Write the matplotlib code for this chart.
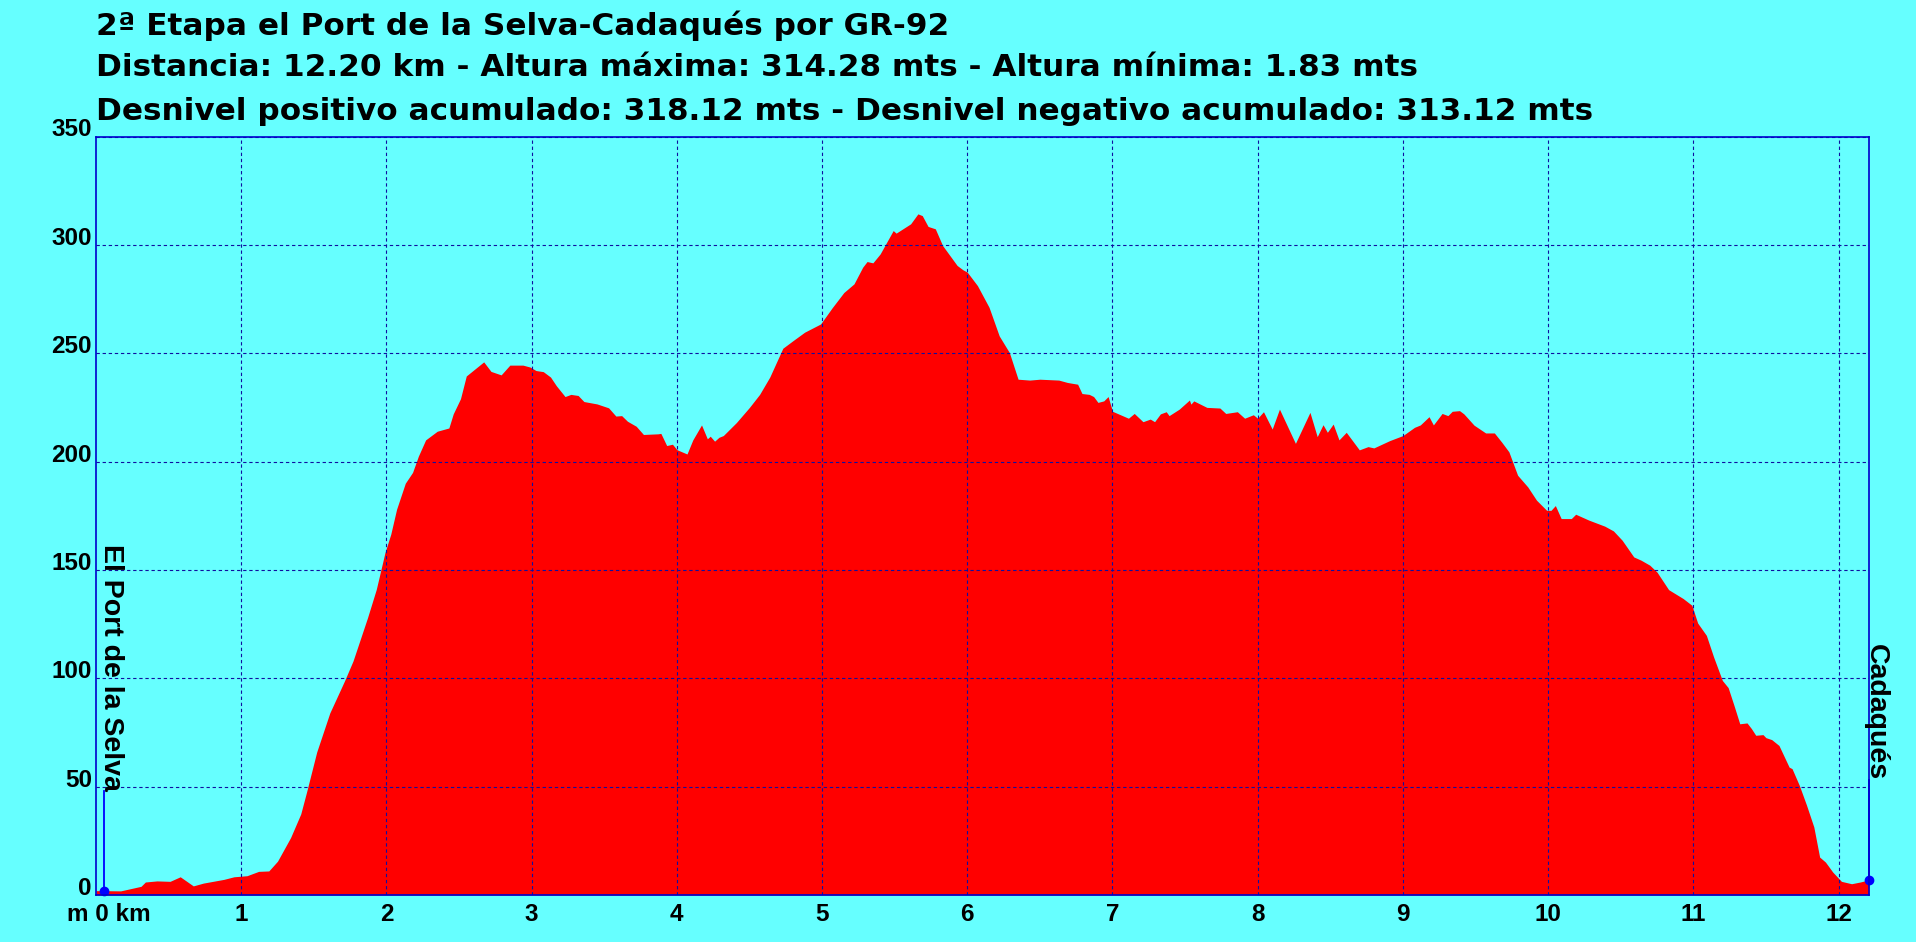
import numpy as np
import matplotlib
matplotlib.use('Agg')
import matplotlib.pyplot as plt

# profile: distance (km), altitude (m)
dist_km = [0.00, 0.055, 0.17, 0.31, 0.34, 0.42, 0.51, 0.58, 0.67, 0.74, 0.88, 0.95,
           1.04, 1.12, 1.19, 1.25, 1.34, 1.41, 1.45, 1.52, 1.61, 1.71, 1.77, 1.82,
           1.87, 1.93, 1.99, 2.03, 2.07, 2.13, 2.18, 2.22, 2.27, 2.35, 2.43, 2.46,
           2.51, 2.55, 2.67, 2.72, 2.79, 2.85, 2.94, 2.99, 3.03, 3.08, 3.13, 3.17,
           3.23, 3.27, 3.32, 3.36, 3.45, 3.53, 3.58, 3.62, 3.66, 3.72, 3.77, 3.87,
           3.89, 3.93, 3.97, 4.00, 4.07, 4.11, 4.17, 4.21, 4.23, 4.26, 4.29, 4.32,
           4.41, 4.50, 4.57, 4.64, 4.73, 4.80, 4.88, 4.99, 5.07, 5.15, 5.22, 5.28,
           5.31, 5.35, 5.40, 5.49, 5.51, 5.61, 5.66, 5.69, 5.73, 5.78, 5.83, 5.93,
           5.97, 6.00, 6.07, 6.15, 6.22, 6.29, 6.35, 6.43, 6.50, 6.63, 6.69, 6.76,
           6.79, 6.84, 6.87, 6.90, 6.94, 6.97, 7.00, 7.11, 7.15, 7.21, 7.26, 7.29,
           7.33, 7.37, 7.39, 7.46, 7.53, 7.54, 7.56, 7.65, 7.74, 7.78, 7.86, 7.91,
           7.97, 8.00, 8.04, 8.10, 8.15, 8.26, 8.36, 8.41, 8.45, 8.48, 8.52, 8.56,
           8.61, 8.70, 8.76, 8.80, 8.91, 9.00, 9.08, 9.12, 9.18, 9.21, 9.27, 9.31,
           9.34, 9.39, 9.42, 9.49, 9.57, 9.63, 9.68, 9.73, 9.79, 9.86, 9.92, 9.99,
           10.02, 10.05, 10.09, 10.16, 10.19, 10.28, 10.39, 10.45, 10.51, 10.59, 10.64, 10.70,
           10.75, 10.83, 10.93, 10.99, 11.03, 11.09, 11.14, 11.20, 11.24, 11.28, 11.32, 11.37,
           11.40, 11.43, 11.48, 11.50, 11.54, 11.59, 11.66, 11.68, 11.73, 11.78, 11.83, 11.87,
           11.91, 11.96, 12.02, 12.09, 12.15, 12.21]
alt_m = [2.0, 2.0, 1.9, 4.0, 6.0, 6.5, 6.3, 8.4, 4.2, 5.5, 7.2, 8.4,
         8.9, 10.9, 11.1, 15.6, 26.5, 37.4, 47.5, 66, 84, 98.6, 108, 118,
         128, 141, 158, 166.5, 178, 190, 195, 202.5, 210, 214, 215.5, 222,
         229, 239.5, 246, 241.6, 240, 244.5, 244.5, 243.6, 242, 241.5, 239, 235,
         230, 231, 230.5, 227.7, 226.6, 224.8, 221, 221.2, 218.6, 216.3, 212.5, 212.8,
         213, 207.4, 208, 205.5, 203.5, 210, 216.9, 210.5, 211.7, 209.4, 211.2, 212,
         218, 225, 231, 239, 252.3, 255.8, 259.7, 263.5, 271, 278, 282, 289.7,
         292.3, 291.7, 295.8, 306.6, 305.4, 309.7, 314.3, 313.5, 308.5, 307.4, 299.7, 290.5,
         288.5, 287.4, 281.2, 271.2, 258, 250.3, 238, 237.6, 238, 237.6, 236.5, 235.7,
         231.4, 231, 230, 227.3, 228, 230, 223.2, 220, 222.2, 218.4, 219.6, 218.4,
         222, 223, 221.2, 224.2, 228.4, 226.5, 228, 225, 224.7, 222.2, 223, 220,
         221.6, 220, 223, 215, 224.2, 208.4, 222.7, 211.5, 217, 213.5, 217.3, 210,
         213.5, 205.4, 206.9, 206.3, 209.7, 212, 215.8, 216.9, 220.7, 216.9, 222.2, 221.2,
         223.2, 223.5, 222, 216.8, 213.2, 213.2, 209, 204.5, 193.7, 188.3, 182.2, 177.5,
         177.5, 179.7, 173.7, 173.7, 175.7, 173, 170.2, 168, 163.7, 156, 154.5, 152.2,
         149, 140.9, 136.8, 133.7, 125.5, 119.8, 109.8, 99, 95.7, 87.5, 79, 79.4,
         76.8, 73.7, 74, 72.6, 71.7, 69, 59, 58.3, 50.6, 41.4, 31.4, 17.5,
         15.2, 10.6, 6.3, 5.2, 6, 7]

x_ticks = list(range(1, 13))
y_ticks = [0, 50, 100, 150, 200, 250, 300, 350]

start_name = 'El Port de la Selva'
start_km, start_alt = 0.055, 2.0
end_name = 'Cadaqués'
end_km, end_alt = 12.21, 7.0

title_lines = ['2ª Etapa el Port de la Selva-Cadaqués por GR-92',
               'Distancia: 12.20 km - Altura máxima: 314.28 mts - Altura mínima: 1.83 mts',
               'Desnivel positivo acumulado: 318.12 mts - Desnivel negativo acumulado: 313.12 mts']

plt.rcParams['font.family'] = ['Liberation Sans', 'DejaVu Sans']
plt.rcParams['font.weight'] = 'bold'

W, H = 1916, 942
bg = '#66FFFF'
blue = '#0000CC'

fig = plt.figure(figsize=(W / 100, H / 100), dpi=100, facecolor=bg)
ax = fig.add_axes([96 / W, 1 - 895 / H, (1869 - 96) / W, (895 - 136.5) / H])
ax.set_facecolor(bg)

ax.fill_between(dist_km, alt_m, 0, color='#FF0000', linewidth=0)

ax.set_xlim(0, 12.21)
ax.set_ylim(0, 350)
ax.set_xticks(x_ticks)
ax.set_yticks(y_ticks)
ax.set_xticklabels([str(t) for t in x_ticks])
ax.set_yticklabels([str(t) for t in y_ticks])
ax.tick_params(length=0, labelsize=17.5)
ax.tick_params(axis='x', pad=6)
ax.tick_params(axis='y', pad=3)
for lab in ax.get_yticklabels():
    lab.set_va('baseline')
    lab.set_fontweight('bold')
for lab in ax.get_xticklabels():
    lab.set_fontweight('bold')

ax.grid(True, color='#1010A0', linewidth=0.8, linestyle=(0, (3, 2.5)))
ax.set_axisbelow('line')
for s in ax.spines.values():
    s.set_color(blue)
    s.set_linewidth(1.2)

ax.annotate('m 0 km', xy=(0, 0), xycoords=('data', 'axes fraction'),
            xytext=(13, -8), textcoords='offset pixels', ha='center', va='top',
            fontsize=17.5, fontweight='bold')

# start and end markers with their place names
for km, alt, name in [(start_km, start_alt, start_name), (end_km, end_alt, end_name)]:
    ax.plot([km, km], [alt, alt + 46], color='#0000FF', linewidth=1.3, clip_on=False)
    ax.plot(km, alt, 'o', color='#0000FF', markersize=6, clip_on=False)
    ax.text(km, alt + 46, name, rotation=-90, rotation_mode='anchor',
            ha='right', va='baseline', fontsize=20.5, fontweight='bold', clip_on=False)

# the title in the picture is wide for its height; DejaVu Sans Bold fits both
for line, base in zip(title_lines, [35, 76, 120.5]):
    fig.text(96 / W, 1 - base / H, line, ha='left', va='baseline',
             fontsize=22.4, fontweight='bold', family=['DejaVu Sans'])

fig.savefig('out.png', dpi=100, facecolor=bg)
